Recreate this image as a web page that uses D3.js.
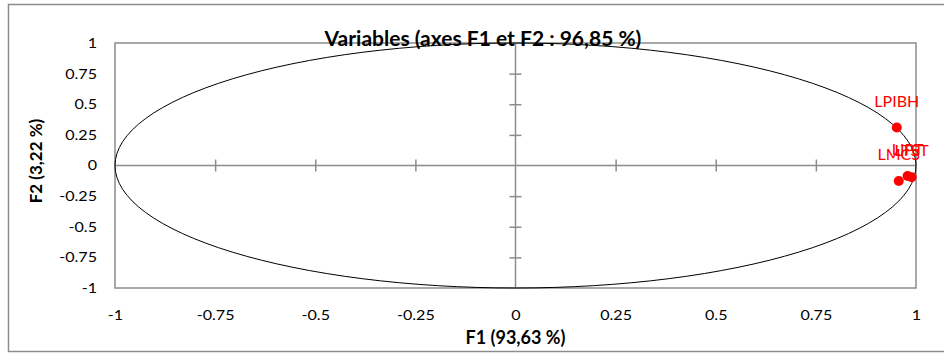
<!DOCTYPE html>
<html>
<head>
<meta charset="utf-8">
<script src="https://cdn.jsdelivr.net/npm/d3@7"></script>
<style>
  body { margin: 0; background: #fff; }
  svg { display: block; font-family: Lato, "Open Sans", sans-serif; }
</style>
</head>
<body>
<div id="chart"></div>
<script>
// data
const varNames = ["LPIBH", "LMCS", "LIPT", "LTST"];
const f1Values = [0.952, 0.957, 0.979, 0.989];
const f2Values = [0.31, -0.127, -0.086, -0.096];
const tickValues = [-1, -0.75, -0.5, -0.25, 0, 0.25, 0.5, 0.75, 1];

const width = 944, height = 354;
const plot = { left: 115, right: 916, top: 43, bottom: 288 };
const gray = "#8c8c8c";

const svg = d3.select("#chart").append("svg")
    .attr("width", width)
    .attr("height", height);

// outer frame
svg.append("rect")
    .attr("x", 8.5).attr("y", 4.5)
    .attr("width", 945).attr("height", 347)
    .attr("fill", "none").attr("stroke", gray).attr("stroke-width", 1.5);

const x = d3.scaleLinear().domain([-1, 1]).range([plot.left, plot.right]);
const y = d3.scaleLinear().domain([-1, 1]).range([plot.bottom, plot.top]);

// plot area border
svg.append("rect")
    .attr("x", x(-1)).attr("y", y(1))
    .attr("width", x(1) - x(-1)).attr("height", y(-1) - y(1))
    .attr("fill", "none").attr("stroke", gray).attr("stroke-width", 1.5);

// axes through origin
const innerTicks = tickValues.filter(d => d !== -1 && d !== 1 && d !== 0);

const xAxis = d3.axisBottom(x).tickValues(innerTicks)
    .tickSizeInner(12).tickSizeOuter(0).tickFormat("");
svg.append("g")
    .attr("transform", `translate(0,${y(0) - 6})`)
    .call(xAxis)
    .call(g => g.select(".domain").remove())
    .selectAll("line").attr("stroke", gray).attr("stroke-width", 1.5);

const yAxis = d3.axisLeft(y).tickValues(innerTicks)
    .tickSizeInner(12).tickSizeOuter(0).tickFormat("");
svg.append("g")
    .attr("transform", `translate(${x(0) + 6},0)`)
    .call(yAxis)
    .call(g => g.select(".domain").remove())
    .selectAll("line").attr("stroke", gray).attr("stroke-width", 1.5);

svg.append("line")
    .attr("x1", x(-1)).attr("x2", x(1))
    .attr("y1", y(0)).attr("y2", y(0))
    .attr("stroke", gray).attr("stroke-width", 1.5);
svg.append("line")
    .attr("x1", x(0)).attr("x2", x(0))
    .attr("y1", y(-1)).attr("y2", y(1))
    .attr("stroke", gray).attr("stroke-width", 1.5);

// correlation circle
svg.append("ellipse")
    .attr("cx", x(0)).attr("cy", y(0))
    .attr("rx", x(1) - x(0)).attr("ry", y(0) - y(1))
    .attr("fill", "none").attr("stroke", "#000").attr("stroke-width", 1);

// tick labels
const xLabels = d3.axisBottom(x).tickValues(tickValues).tickSize(0).tickPadding(0)
    .tickFormat(d => String(d));
svg.append("g")
    .attr("transform", `translate(0,${plot.bottom + 22})`)
    .call(xLabels)
    .call(g => g.select(".domain").remove())
    .selectAll("text")
    .attr("font-size", 14).attr("fill", "#000")
    .attr("font-family", "Lato, sans-serif")
    .attr("transform", "scale(1.15,1)");

const yLabels = d3.axisLeft(y).tickValues(tickValues).tickSize(0).tickPadding(0)
    .tickFormat(d => String(d));
svg.append("g")
    .attr("transform", `translate(${plot.left - 18},0)`)
    .call(yLabels)
    .call(g => g.select(".domain").remove())
    .selectAll("text")
    .attr("font-size", 14).attr("fill", "#000")
    .attr("font-family", "Lato, sans-serif")
    .attr("transform", "scale(1.15,1)");

// points
const pts = varNames.map((n, i) => ({ name: n, f1: f1Values[i], f2: f2Values[i] }));
svg.selectAll("circle.pt").data(pts).enter().append("circle")
    .attr("class", "pt")
    .attr("cx", d => x(d.f1)).attr("cy", d => y(d.f2))
    .attr("r", 5).attr("fill", "#ff0000");

svg.selectAll("text.lbl").data(pts).enter().append("text")
    .attr("class", "lbl")
    .attr("x", d => x(d.f1)).attr("y", d => y(d.f2) - 21)
    .attr("text-anchor", "middle")
    .attr("font-size", 16).attr("fill", "#ff0000")
    .text(d => d.name);

// titles
svg.append("text")
    .attr("x", 483).attr("y", 46)
    .attr("text-anchor", "middle")
    .attr("font-size", 21).attr("font-weight", "bold")
    .text("Variables (axes F1 et F2 : 96,85 %)");

svg.append("text")
    .attr("x", x(0)).attr("y", 344)
    .attr("text-anchor", "middle")
    .attr("font-size", 18).attr("font-weight", "bold")
    .text("F1 (93,63 %)");

svg.append("text")
    .attr("transform", `translate(42,161) rotate(-90)`)
    .attr("text-anchor", "middle")
    .attr("font-size", 17).attr("font-weight", "bold")
    .text("F2 (3,22 %)");
</script>
</body>
</html>
